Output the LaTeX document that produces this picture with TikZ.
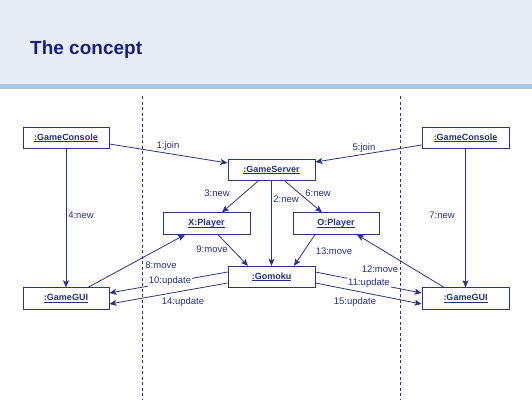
\documentclass[tikz,border=0pt]{standalone}
\usepackage{fontspec}
\setmainfont{Liberation Sans}
\usetikzlibrary{arrows.meta,calc}
\definecolor{banner}{HTML}{E6EDF7}
\definecolor{stripe}{HTML}{B1C7DF}
\definecolor{titleblue}{HTML}{1A1F7A}
\definecolor{ink}{HTML}{2A3580}
\definecolor{inktext}{HTML}{243080}
% object names are underlined close to the baseline
\newcommand{\objname}[1]{\setbox0\hbox{#1}\rlap{\rule[-1.5pt]{\wd0}{0.6pt}}\box0}
\begin{document}
\begin{tikzpicture}[x=1pt,y=-1pt,
  obj/.style={draw=ink, line width=0.8pt, fill=white, minimum height=21.5pt,
    inner sep=0pt, text=inktext, font=\fontsize{9}{10}\selectfont\bfseries},
  msg/.style={draw=ink, line width=0.8pt, -{Stealth[length=7pt,width=6pt,inset=1.5pt]}},
  lbl/.style={text=inktext, font=\fontsize{9.5}{11}\selectfont, inner sep=1pt},
  lifeline/.style={draw=ink, line width=0.6pt, dash pattern=on 3pt off 2.5pt}]
\useasboundingbox (0,0) rectangle (532,400);

% header band
\fill[banner] (0,0) rectangle (532,84);
\fill[stripe] (0,84) rectangle (532,89);
\node[anchor=base west, inner sep=0pt, text=titleblue,
  font=\fontsize{19}{22}\selectfont\bfseries] (title) at (30,54) {The concept};

% process boundaries
\coordinate (bl1) at (142.5,96);
\coordinate (bl2) at (142.5,400);
\coordinate (br1) at (400,96);
\coordinate (br2) at (400,400);
\draw[lifeline] (bl1) -- (bl2);
\draw[lifeline] (br1) -- (br2);

% objects
\node[obj, minimum width=86pt] (gcL) at (66,138) {\objname{:GameConsole}};
\node[obj, minimum width=87pt] (gcR) at (465.5,138) {\objname{:GameConsole}};
\node[obj, minimum width=87pt] (server) at (271.5,170) {\objname{:GameServer}};
\node[obj, minimum width=87pt] (xp) at (206.5,223.5) {\objname{X:Player}};
\node[obj, minimum width=86pt] (op) at (336,223.5) {\objname{O:Player}};
\node[obj, minimum width=87pt] (gom) at (271.5,277) {\objname{:Gomoku}};
\node[obj, minimum width=86pt] (guiL) at (66,298.5) {\objname{:GameGUI}};
\node[obj, minimum width=87pt] (guiR) at (465.5,298.5) {\objname{:GameGUI}};

% messages
\draw[msg] ($(gcL.east)+(0,6)$) -- ($(server.west)+(0,-7)$);
\node[lbl] (m1) at (168,146) {1:join};

\draw[msg] ($(gcR.west)+(0,7)$) -- ($(server.east)+(0,-8)$);
\node[lbl] (m5) at (364,148) {5:join};

\draw[msg] (server.south) -- (gom.north);
\node[lbl] (m2) at (286,199) {2:new};

\draw[msg] ($(server.south)+(-13.5,0)$) -- ($(xp.north)+(15.5,0)$);
\node[lbl] (m3) at (217,193) {3:new};

\draw[msg] ($(server.south)+(13.5,0)$) -- ($(op.north)+(-14,0)$);
\node[lbl] (m6) at (318,193) {6:new};

\draw[msg] (gcL.south) -- (guiL.north);
\node[lbl] (m4) at (81,215) {4:new};

\draw[msg] (gcR.south) -- (guiR.north);
\node[lbl] (m7) at (442,215) {7:new};

\draw[msg] ($(guiL.north)+(22,0)$) -- ($(xp.south)+(-21.5,0)$);
\node[lbl] (m8) at (161,265) {8:move};

\draw[msg] ($(xp.south)+(11.5,0)$) -- ($(gom.north)+(-23.5,0)$);
\node[lbl] (m9) at (212,249) {9:move};

\draw[msg] ($(op.south)+(-21,0)$) -- ($(gom.north)+(22.5,0)$);
\node[lbl] (m13) at (334,251) {13:move};

\draw[msg] ($(guiR.north)+(-21.5,0)$) -- ($(op.south)+(21,0)$);
\node[lbl] (m12) at (380,269) {12:move};

\draw[msg] ($(gom.west)+(0,-5)$) -- ($(guiL.east)+(0,-5.5)$);
\node[lbl, fill=white] (m10) at (170,281.5) {10:update};

\draw[msg] ($(gom.west)+(0,6)$) -- ($(guiL.east)+(0,5.5)$);
\node[lbl] (m14) at (183,302) {14:update};

\draw[msg] ($(gom.east)+(0,-5)$) -- ($(guiR.west)+(0,-5.5)$);
\node[lbl, fill=white] (m11) at (369,283) {11:update};

\draw[msg] ($(gom.east)+(0,6)$) -- ($(guiR.west)+(0,5.5)$);
\node[lbl] (m15) at (355,302) {15:update};
\end{tikzpicture}
\end{document}
